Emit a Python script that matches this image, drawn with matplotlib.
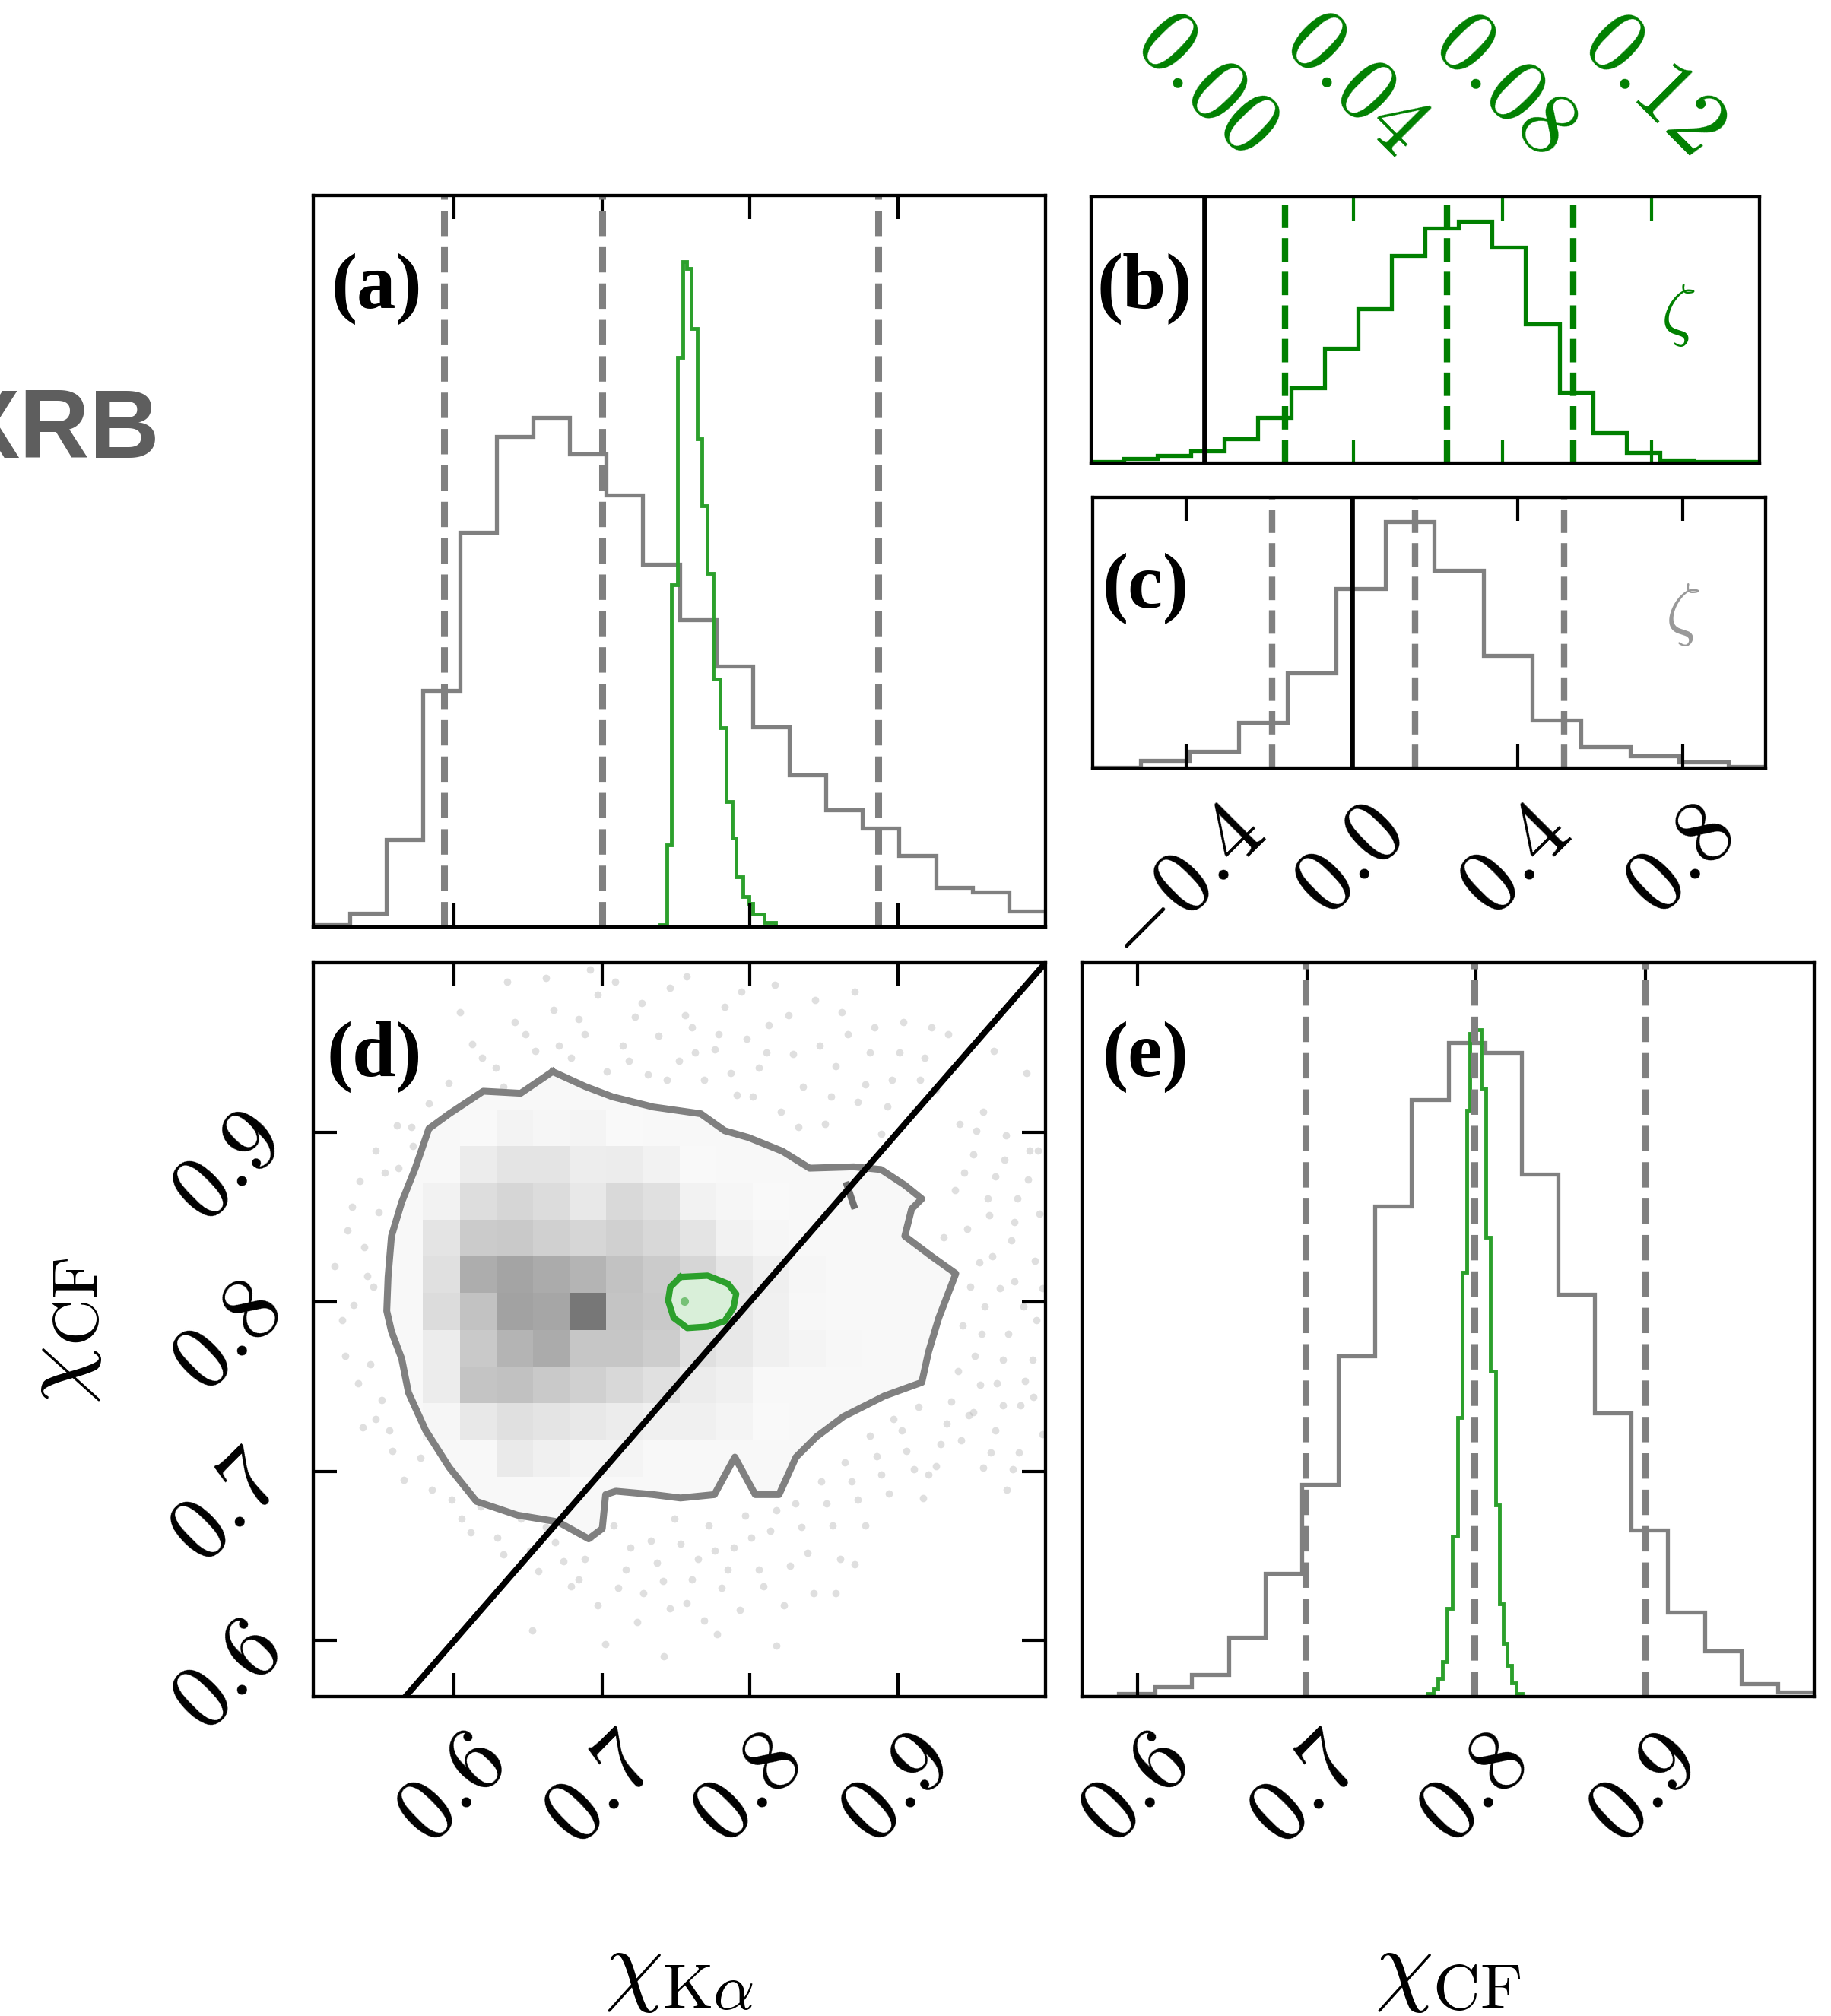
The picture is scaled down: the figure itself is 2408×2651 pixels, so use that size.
import numpy as np
import matplotlib
matplotlib.use("Agg")
import matplotlib.pyplot as plt
from matplotlib.colors import LinearSegmentedColormap

plt.rcParams['mathtext.fontset'] = 'cm'
plt.rcParams['font.family'] = ['Liberation Serif', 'DejaVu Serif']

# ---------------- values ----------------
ka_range = (0.5046, 1.0)          # chi_Ka axis / histogram range
cf_range = (0.567, 1.0)           # chi_CF axis / histogram range
zb_range = (-0.0308, 0.1492)      # zeta (b) histogram range

ka_ticks = [0.6, 0.7, 0.8, 0.9]
ka_labels = ['0.6', '0.7', '0.8', '0.9']
zb_ticks = [0.0, 0.04, 0.08, 0.12]
zb_labels = ['0.00', '0.04', '0.08', '0.12']
zc_ticks = [-0.4, 0.0, 0.4, 0.8]
zc_labels = ['-0.4', '0.0', '0.4', '0.8']

# (a) chi_Ka marginals
grey_ka = [0.003, 0.021, 0.132, 0.356, 0.594, 0.737, 0.766, 0.711, 0.650, 0.545,
           0.462, 0.392, 0.301, 0.229, 0.176, 0.149, 0.108, 0.060, 0.053, 0.024]
green_ka_edges = [0.7393, 0.7436, 0.7470, 0.7508, 0.7544, 0.7573, 0.7604, 0.7642,
                  0.7673, 0.7710, 0.7753, 0.7796, 0.7839, 0.7882, 0.7907, 0.7950,
                  0.7993, 0.8019, 0.8096, 0.8173]
green_ka = [0.003, 0.123, 0.514, 0.856, 1.0, 0.99, 0.900, 0.734, 0.633, 0.532,
            0.373, 0.300, 0.189, 0.134, 0.075, 0.046, 0.036, 0.020, 0.007]
ka_quant = [0.593, 0.700, 0.887]

# (e) chi_CF marginals
grey_cf = [0.0, 0.004, 0.015, 0.033, 0.089, 0.185, 0.318, 0.511, 0.735, 0.895,
           0.980, 0.965, 0.783, 0.603, 0.425, 0.250, 0.127, 0.068, 0.019, 0.007]
green_cf_edges = [0.7710, 0.7747, 0.7773, 0.7800, 0.7827, 0.7860, 0.7890, 0.7920,
                  0.7947, 0.7965, 0.7998, 0.8032, 0.8058, 0.8085, 0.8115, 0.8137,
                  0.8160, 0.8182, 0.8212, 0.8238, 0.8272]
green_cf = [0.004, 0.011, 0.027, 0.052, 0.132, 0.241, 0.418, 0.636, 0.879, 0.994,
            1.0, 0.912, 0.688, 0.488, 0.287, 0.139, 0.080, 0.047, 0.020, 0.004]
cf_quant = [0.699, 0.799, 0.900]

# (b) zeta, green
green_zeta = [0.005, 0.0175, 0.0325, 0.05, 0.10, 0.1875, 0.3125, 0.475, 0.6375, 0.8575,
              0.97, 1.0, 0.8925, 0.575, 0.2925, 0.125, 0.045, 0.0125, 0.0075, 0.005]
zb_quant = [0.0216, 0.0651, 0.0990]

# (c) zeta, grey
grey_zeta_edges = [-0.629, -0.511, -0.393, -0.274, -0.156, -0.038, 0.081, 0.199,
                   0.318, 0.435, 0.554, 0.673, 0.791, 0.909, 1.027]
grey_zeta = [0.003, 0.032, 0.069, 0.186, 0.387, 0.730, 1.0, 0.804, 0.456, 0.196,
             0.088, 0.049, 0.025, 0.007]
zc_quant = [-0.194, 0.153, 0.512]

# (d) 2D density, rows top (bin 15) to bottom (bin 6), columns bins 3..14
dens_rows = [
    [0.00, 0.05, 0.09, 0.07, 0.08, 0.05, 0.00, 0.00, 0.00, 0.00, 0.00, 0.00],
    [0.00, 0.14, 0.20, 0.20, 0.13, 0.14, 0.10, 0.05, 0.00, 0.00, 0.00, 0.00],
    [0.10, 0.25, 0.30, 0.26, 0.17, 0.28, 0.23, 0.10, 0.07, 0.05, 0.00, 0.00],
    [0.20, 0.38, 0.40, 0.35, 0.30, 0.35, 0.29, 0.20, 0.10, 0.07, 0.00, 0.00],
    [0.23, 0.60, 0.67, 0.62, 0.55, 0.45, 0.38, 0.30, 0.18, 0.12, 0.07, 0.00],
    [0.26, 0.45, 0.68, 0.65, 1.00, 0.43, 0.40, 0.20, 0.17, 0.11, 0.06, 0.00],
    [0.14, 0.40, 0.55, 0.62, 0.42, 0.42, 0.37, 0.23, 0.17, 0.11, 0.08, 0.06],
    [0.14, 0.43, 0.46, 0.40, 0.35, 0.29, 0.23, 0.14, 0.11, 0.00, 0.00, 0.00],
    [0.07, 0.17, 0.23, 0.20, 0.17, 0.14, 0.11, 0.11, 0.08, 0.05, 0.00, 0.00],
    [0.00, 0.00, 0.16, 0.11, 0.08, 0.08, 0.00, 0.00, 0.00, 0.00, 0.00, 0.00],
]
dens_col0 = 3
dens_row_top = 15

contour_x = [0.6665, 0.6449, 0.6196, 0.5966, 0.5828, 0.5736, 0.5644, 0.5575, 0.5552,
             0.5543, 0.5575, 0.5644, 0.5690, 0.5805, 0.5966, 0.6150, 0.6426, 0.6702,
             0.6909, 0.7001, 0.7024, 0.7093, 0.7346, 0.7530, 0.7760, 0.7898, 0.8036,
             0.8197, 0.8312, 0.8450, 0.8634, 0.8910, 0.9163, 0.9209, 0.9278, 0.9393,
             0.9232, 0.9048, 0.9094, 0.9163, 0.9048, 0.8887, 0.8703, 0.8404, 0.8220,
             0.7990, 0.7829, 0.7668, 0.7346, 0.7070, 0.6886, 0.6665]
contour_y = [0.9358, 0.9230, 0.9242, 0.9109, 0.9021, 0.8788, 0.8587, 0.8387, 0.8146,
             0.7945, 0.7825, 0.7664, 0.7464, 0.7243, 0.7022, 0.6822, 0.6741, 0.6701,
             0.6601, 0.6661, 0.6862, 0.6882, 0.6862, 0.6842, 0.6862, 0.7083, 0.6862,
             0.6862, 0.7083, 0.7203, 0.7323, 0.7444, 0.7524, 0.7705, 0.7905, 0.8166,
             0.8266, 0.8387, 0.8547, 0.8607, 0.8688, 0.8780, 0.8796, 0.8788, 0.8888,
             0.8969, 0.9009, 0.9109, 0.9149, 0.9209, 0.9270, 0.9358]
spur_x = [0.8657, 0.8703]
spur_y = [0.8688, 0.8567]

green_x = [0.7530, 0.7714, 0.7852, 0.7907, 0.7889, 0.7829, 0.7714, 0.7576, 0.7484,
           0.7447, 0.7461, 0.7530]
green_y = [0.8146, 0.8154, 0.8106, 0.8046, 0.7965, 0.7885, 0.7853, 0.7845, 0.7905,
           0.8006, 0.8086, 0.8146]
green_peak_x = [0.7555]
green_peak_y = [0.8005]

# faint samples outside the contour
pts_x = [0.612, 0.628, 0.641, 0.655, 0.667, 0.679, 0.688, 0.697, 0.703, 0.714, 0.722,
         0.731, 0.738, 0.746, 0.752, 0.761, 0.769, 0.776, 0.783, 0.791, 0.798, 0.806,
         0.813, 0.821, 0.829, 0.836, 0.844, 0.851, 0.858, 0.866, 0.873, 0.881, 0.889,
         0.896, 0.904, 0.911, 0.918, 0.926, 0.934, 0.596, 0.583, 0.636, 0.692, 0.757,
         0.817, 0.871,
         0.942, 0.951, 0.958, 0.966, 0.973, 0.981, 0.989, 0.996, 0.947, 0.955, 0.962,
         0.969, 0.977, 0.985, 0.993, 0.944, 0.952, 0.959, 0.967, 0.975, 0.983, 0.991,
         0.998, 0.936, 0.943, 0.951, 0.958, 0.966, 0.974, 0.982, 0.929, 0.921, 0.987,
         0.965, 0.998, 0.939, 0.931,
         0.598, 0.611, 0.624, 0.633, 0.645, 0.657, 0.668, 0.679, 0.688, 0.697, 0.708,
         0.716, 0.724, 0.733, 0.741, 0.749, 0.757, 0.765, 0.772, 0.781, 0.789, 0.797,
         0.806, 0.814, 0.823, 0.831, 0.839, 0.848, 0.856, 0.864, 0.873, 0.881, 0.889,
         0.897, 0.906, 0.914, 0.653, 0.702, 0.742, 0.778, 0.818, 0.858, 0.871,
         0.528, 0.536, 0.541, 0.547, 0.532, 0.543, 0.551, 0.538, 0.558, 0.566, 0.526,
         0.549, 0.561, 0.572, 0.519, 0.585, 0.577]
pts_y = [0.952, 0.938, 0.965, 0.948, 0.972, 0.944, 0.958, 0.981, 0.936, 0.951, 0.968,
         0.934, 0.957, 0.985, 0.942, 0.962, 0.931, 0.949, 0.974, 0.922, 0.955, 0.938,
         0.963, 0.912, 0.946, 0.927, 0.978, 0.905, 0.939, 0.958, 0.918, 0.947, 0.899,
         0.931, 0.965, 0.912, 0.944, 0.925, 0.958, 0.929, 0.917, 0.989, 0.996, 0.992,
         0.987, 0.983,
         0.905, 0.887, 0.912, 0.874, 0.898, 0.861, 0.889, 0.852, 0.843, 0.823, 0.851,
         0.808, 0.836, 0.797, 0.824, 0.786, 0.768, 0.797, 0.752, 0.781, 0.739, 0.766,
         0.722, 0.741, 0.718, 0.735, 0.702, 0.724, 0.689, 0.711, 0.716, 0.698, 0.935,
         0.948, 0.808, 0.866, 0.838,
         0.683, 0.664, 0.688, 0.651, 0.672, 0.641, 0.658, 0.632, 0.648, 0.621, 0.668,
         0.642, 0.611, 0.659, 0.635, 0.672, 0.622, 0.648, 0.668, 0.631, 0.655, 0.674,
         0.642, 0.665, 0.621, 0.681, 0.652, 0.694, 0.668, 0.705, 0.683, 0.721, 0.698,
         0.731, 0.712, 0.738, 0.606, 0.598, 0.591, 0.604, 0.597, 0.628, 0.645,
         0.842, 0.871, 0.815, 0.889, 0.798, 0.763, 0.742, 0.726, 0.712, 0.695, 0.768,
         0.853, 0.904, 0.892, 0.821, 0.689, 0.708]
pts2_x = [0.604, 0.619, 0.633, 0.648, 0.662, 0.671, 0.684, 0.709, 0.718, 0.727, 0.744,
          0.756, 0.763, 0.779, 0.787, 0.794, 0.802, 0.811, 0.826, 0.833, 0.847, 0.855,
          0.862, 0.878, 0.884, 0.893, 0.901, 0.915, 0.923, 0.938,
          0.945, 0.953, 0.961, 0.972, 0.979, 0.988, 0.995, 0.949, 0.957, 0.964, 0.971,
          0.979, 0.986, 0.994, 0.941, 0.948, 0.956, 0.963, 0.971, 0.978, 0.992, 0.933,
          0.926, 0.917,
          0.605, 0.618, 0.629, 0.639, 0.651, 0.662, 0.674, 0.684, 0.692, 0.711, 0.719,
          0.728, 0.737, 0.746, 0.753, 0.761, 0.769, 0.776, 0.785, 0.793, 0.801, 0.809,
          0.818, 0.827, 0.835, 0.843, 0.852, 0.861, 0.869, 0.878, 0.886, 0.894, 0.903,
          0.911,
          0.531, 0.539, 0.545, 0.553, 0.524, 0.535, 0.547, 0.556, 0.562, 0.571]
pts2_y = [0.971, 0.944, 0.927, 0.958, 0.991, 0.951, 0.967, 0.989, 0.942, 0.976, 0.931,
          0.969, 0.947, 0.958, 0.935, 0.983, 0.921, 0.947, 0.969, 0.903, 0.951, 0.921,
          0.971, 0.928, 0.962, 0.915, 0.947, 0.931, 0.962, 0.938,
          0.876, 0.901, 0.861, 0.884, 0.847, 0.872, 0.889, 0.809, 0.781, 0.827, 0.766,
          0.812, 0.753, 0.789, 0.759, 0.733, 0.751, 0.711, 0.739, 0.701, 0.744, 0.728,
          0.703, 0.684,
          0.672, 0.679, 0.661, 0.684, 0.653, 0.667, 0.647, 0.636, 0.661, 0.631, 0.655,
          0.628, 0.646, 0.619, 0.657, 0.636, 0.612, 0.653, 0.642, 0.618, 0.661, 0.632,
          0.677, 0.644, 0.667, 0.628, 0.681, 0.648, 0.694, 0.668, 0.709, 0.687, 0.724,
          0.701,
          0.856, 0.832, 0.809, 0.876, 0.789, 0.752, 0.731, 0.724, 0.879, 0.903]

# ---------------- styling ----------------
GREY = '#808080'
GREEN_L = '#2ca02c'
GREEN_D = '#008000'
TICK_FS = 86
W, H = 2408, 2651


def box(x0, y0, x1, y1):
    return [x0 / W, 1 - y1 / H, (x1 - x0) / W, (y1 - y0) / H]


def frame(ax, color='black'):
    for s in ax.spines.values():
        s.set_linewidth(3.1)
    ax.tick_params(direction='in', length=22, width=3, top=True, bottom=True,
                   labelsize=TICK_FS, pad=24, color=color, labelcolor=color)


def math(labels):
    return ['$' + l + '$' for l in labels]


fig = plt.figure(figsize=(24.08, 26.51), dpi=100)
ax_a = fig.add_axes(box(412, 257, 1375, 1219))
ax_b = fig.add_axes(box(1435, 259, 2314, 609))
ax_c = fig.add_axes(box(1437, 654, 2322, 1010))
ax_d = fig.add_axes(box(412, 1266, 1375, 2231))
ax_e = fig.add_axes(box(1423, 1266, 2386, 2231))

# (a)
ka_edges = np.linspace(ka_range[0], ka_range[1], len(grey_ka) + 1)
ax_a.stairs(grey_ka, ka_edges, color=GREY, lw=3.8)
ax_a.stairs(green_ka, green_ka_edges, color=GREEN_L, lw=3.5)
for q in ka_quant:
    ax_a.axvline(q, color=GREY, ls='--', lw=6.5)
ax_a.set_xlim(ka_range)
ax_a.set_ylim(0, 1.1)
ax_a.set_yticks([])
ax_a.set_xticks(ka_ticks)
frame(ax_a)
ax_a.tick_params(labelbottom=False)

# (b)
zb_edges = np.linspace(zb_range[0], zb_range[1], len(green_zeta) + 1)
ax_b.stairs(green_zeta, zb_edges, color=GREEN_D, lw=3.8)
for q in zb_quant:
    ax_b.axvline(q, color=GREEN_D, ls='--', lw=6)
ax_b.axvline(0.0, color='black', lw=4.8)
ax_b.set_xlim(-0.0305, 0.149)
ax_b.set_ylim(0, 1.1)
ax_b.set_yticks([])
ax_b.set_xticks(zb_ticks)
frame(ax_b, GREEN_D)
ax_b.tick_params(labelbottom=False, labeltop=True)
ax_b.set_xticklabels(math(zb_labels), rotation=-45)
ax_b.text(0.878, 0.557, r'$\zeta$', color=GREEN_D, fontsize=66,
          transform=ax_b.transAxes, ha='center', va='center')

# (c)
ax_c.stairs(grey_zeta, grey_zeta_edges, color=GREY, lw=3.8)
for q in zc_quant:
    ax_c.axvline(q, color=GREY, ls='--', lw=6)
ax_c.axvline(0.0, color='black', lw=4.8)
ax_c.set_xlim(-0.627, 1.0)
ax_c.set_ylim(0, 1.1)
ax_c.set_yticks([])
ax_c.set_xticks(zc_ticks)
frame(ax_c)
ax_c.set_xticklabels(math(zc_labels), rotation=45)
ax_c.text(0.876, 0.567, r'$\zeta$', color='#999999', fontsize=66,
          transform=ax_c.transAxes, ha='center', va='center')

# (d)
grid = np.zeros((20, 20))
for r, row in enumerate(dens_rows):
    grid[dens_row_top - r, dens_col0:dens_col0 + len(row)] = row
grid = np.ma.masked_equal(grid, 0)
xe = np.linspace(ka_range[0], ka_range[1], 21)
ye = np.linspace(cf_range[0], cf_range[1], 21)
dens_cmap = LinearSegmentedColormap.from_list('dens', ['#ffffff', '#777777'])

ax_d.plot(pts_x + pts2_x, pts_y + pts2_y, 'o', color='#b8b8b8', ms=7, alpha=0.45,
          mec='none', zorder=1)
ax_d.fill(contour_x, contour_y, color='#f8f8f8', lw=0, zorder=2)
ax_d.pcolormesh(xe, ye, grid, cmap=dens_cmap, vmin=0, vmax=1, zorder=3)
ax_d.plot(contour_x, contour_y, color=GREY, lw=6.5, zorder=4)
ax_d.plot(spur_x, spur_y, color='#707070', lw=6.5, zorder=4)
ax_d.fill(green_x, green_y, color='#d9efd9', lw=0, zorder=5)
ax_d.plot(green_peak_x, green_peak_y, 'o', color='#4cae4c', ms=8, mec='none',
          alpha=0.7, zorder=5)
ax_d.plot(green_x, green_y, color=GREEN_L, lw=6, zorder=6)
ax_d.axline((0.6, 0.6), slope=1, color='black', lw=5.8, zorder=7)
ax_d.set_xlim(ka_range)
ax_d.set_ylim(cf_range)
ax_d.set_xticks(ka_ticks)
ax_d.set_yticks(ka_ticks)
frame(ax_d)
ax_d.tick_params(left=True, right=True)
ax_d.tick_params(axis='y', pad=14)
ax_d.set_xticklabels(math(ka_labels), rotation=45)
ax_d.set_yticklabels(math(ka_labels), rotation=45)

# (e)
cf_edges = np.linspace(cf_range[0], cf_range[1], len(grey_cf) + 1)
ax_e.stairs(grey_cf, cf_edges, color=GREY, lw=3.8)
ax_e.stairs(green_cf, green_cf_edges, color=GREEN_L, lw=3.5)
for q in cf_quant:
    ax_e.axvline(q, color=GREY, ls='--', lw=6.5)
ax_e.set_xlim(cf_range)
ax_e.set_ylim(0, 1.1)
ax_e.set_yticks([])
ax_e.set_xticks(ka_ticks)
frame(ax_e)
ax_e.set_xticklabels(math(ka_labels), rotation=45)

# panel letters
for ax, lab, x, y in [(ax_a, '(a)', 0.086, 0.872), (ax_b, '(b)', 0.080, 0.654),
                      (ax_c, '(c)', 0.079, 0.663), (ax_d, '(d)', 0.083, 0.872),
                      (ax_e, '(e)', 0.087, 0.872)]:
    ax.text(x, y, lab, transform=ax.transAxes, fontsize=74, fontweight='bold',
            ha='center', va='center', zorder=10)

# axis labels
fig.text(893 / W, 1 - 2593 / H, r'$\chi_{\mathrm{K}\alpha}$', fontsize=88,
         ha='center', va='center')
fig.text(1904 / W, 1 - 2593 / H, r'$\chi_{\mathrm{CF}}$', fontsize=88,
         ha='center', va='center')
fig.text(80 / W, 1 - 1750 / H, r'$\chi_{\mathrm{CF}}$', fontsize=88,
         ha='center', va='center', rotation=90)

# heading that the reference shows cut off at the left edge
fig.text(210 / W, 1 - 602 / H, 'XRB', fontsize=92, fontweight='bold',
         color='#5e5e5e', family='Liberation Sans', ha='right', va='baseline')

fig.savefig('out.png', dpi=100)
